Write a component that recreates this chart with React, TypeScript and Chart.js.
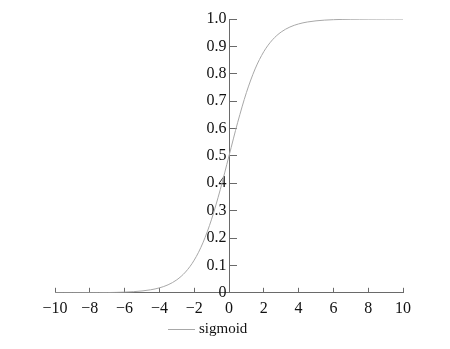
import React, { useEffect, useRef } from "react";
import { Chart, registerables } from "chart.js";

Chart.register(...registerables);

const xValues = [
  -10, -9.5, -9, -8.5, -8, -7.5, -7, -6.5, -6, -5.5, -5, -4.5, -4, -3.5, -3, -2.5, -2, -1.5, -1, -0.5,
  0, 0.5, 1, 1.5, 2, 2.5, 3, 3.5, 4, 4.5, 5, 5.5, 6, 6.5, 7, 7.5, 8, 8.5, 9, 9.5, 10,
];
const sigmoidValues = [
  0.0, 0.0001, 0.0001, 0.0002, 0.0003, 0.0006, 0.0009, 0.0015, 0.0025, 0.0041, 0.0067, 0.011, 0.018,
  0.0293, 0.0474, 0.0759, 0.1192, 0.1824, 0.2689, 0.3775, 0.5, 0.6225, 0.7311, 0.8176, 0.8808, 0.9241,
  0.9526, 0.9707, 0.982, 0.989, 0.9933, 0.9959, 0.9975, 0.9985, 0.9991, 0.9994, 0.9997, 0.9998, 0.9999,
  0.9999, 1.0,
];
const seriesLabel = "sigmoid";
const xTickRange = [-10, 10, 2];
const yTickRange = [0, 1, 0.1];

const AXIS_COLOR = "#6a6a6a";
const CURVE_COLOR = "#a8a8a8";
const TEXT_COLOR = "#111111";
const FONT = "'Liberation Serif', 'Times New Roman', serif";

export default function App() {
  const ref = useRef<HTMLCanvasElement | null>(null);

  useEffect(() => {
    if (!ref.current) return;
    const fmtX = (v: number) => (v < 0 ? "\u2212" + Math.abs(v) : String(v));
    const fmtY = (v: number) => (Math.abs(v) < 1e-9 ? "0" : Number(v).toFixed(1));
    const chart = new Chart(ref.current, {
      type: "line",
      data: {
        datasets: [
          {
            label: seriesLabel,
            data: xValues.map((x, i) => ({ x, y: sigmoidValues[i] })),
            borderColor: CURVE_COLOR,
            backgroundColor: CURVE_COLOR,
            borderWidth: 1,
            pointRadius: 0,
            cubicInterpolationMode: "monotone",
            fill: false,
          },
        ],
      },
      options: {
        responsive: false,
        animation: false,
        layout: { padding: { left: 55, right: 47, top: 19, bottom: 20 } },
        plugins: { legend: { display: false }, tooltip: { enabled: false } },
        scales: {
          x: {
            type: "linear",
            position: "bottom",
            min: xTickRange[0],
            max: xTickRange[1],
            z: 1,
            grid: { display: true, drawOnChartArea: false, drawTicks: true, tickLength: -5, color: AXIS_COLOR, lineWidth: 1 },
            border: { display: true, color: AXIS_COLOR, width: 1 },
            ticks: {
              stepSize: xTickRange[2],
              autoSkip: false,
              maxRotation: 0,
              padding: 11,
              color: TEXT_COLOR,
              font: { family: FONT, size: 16 },
              callback: (v: any) => fmtX(Number(v)),
            },
          },
          y: {
            type: "linear",
            position: { x: 0 } as any,
            min: yTickRange[0],
            max: yTickRange[1],
            z: 1,
            grid: { display: true, drawOnChartArea: false, drawTicks: true, tickLength: -8, color: AXIS_COLOR, lineWidth: 1 },
            border: { display: true, color: AXIS_COLOR, width: 1 },
            ticks: { display: false, stepSize: yTickRange[2] },
          },
          yLabels: {
            type: "linear",
            axis: "y",
            position: { x: -0.15 } as any,
            min: yTickRange[0],
            max: yTickRange[1],
            grid: { display: false },
            border: { display: false },
            ticks: {
              stepSize: yTickRange[2],
              color: TEXT_COLOR,
              font: { family: FONT, size: 16 },
              callback: (v: any) => fmtY(Number(v)),
            },
          },
        },
      },
    });
    return () => chart.destroy();
  }, []);

  return (
    <div style={{ position: "fixed", left: 0, top: 0, width: 450, height: 349, background: "#fff" }}>
      <canvas ref={ref} width={450} height={349} style={{ width: 450, height: 349, display: "block" }} />
      <div
        style={{
          position: "absolute",
          left: 168,
          top: 321,
          height: 15,
          width: 90,
          fontFamily: FONT,
          fontSize: 15,
          lineHeight: "15px",
          color: TEXT_COLOR,
          whiteSpace: "nowrap",
        }}
      >
        <span
          style={{
            position: "absolute",
            left: 0,
            top: 8,
            width: 27,
            height: 0,
            borderTop: `1px solid ${CURVE_COLOR}`,
          }}
        />
        <span style={{ position: "absolute", left: 31, top: 0 }}>{seriesLabel}</span>
      </div>
    </div>
  );
}
